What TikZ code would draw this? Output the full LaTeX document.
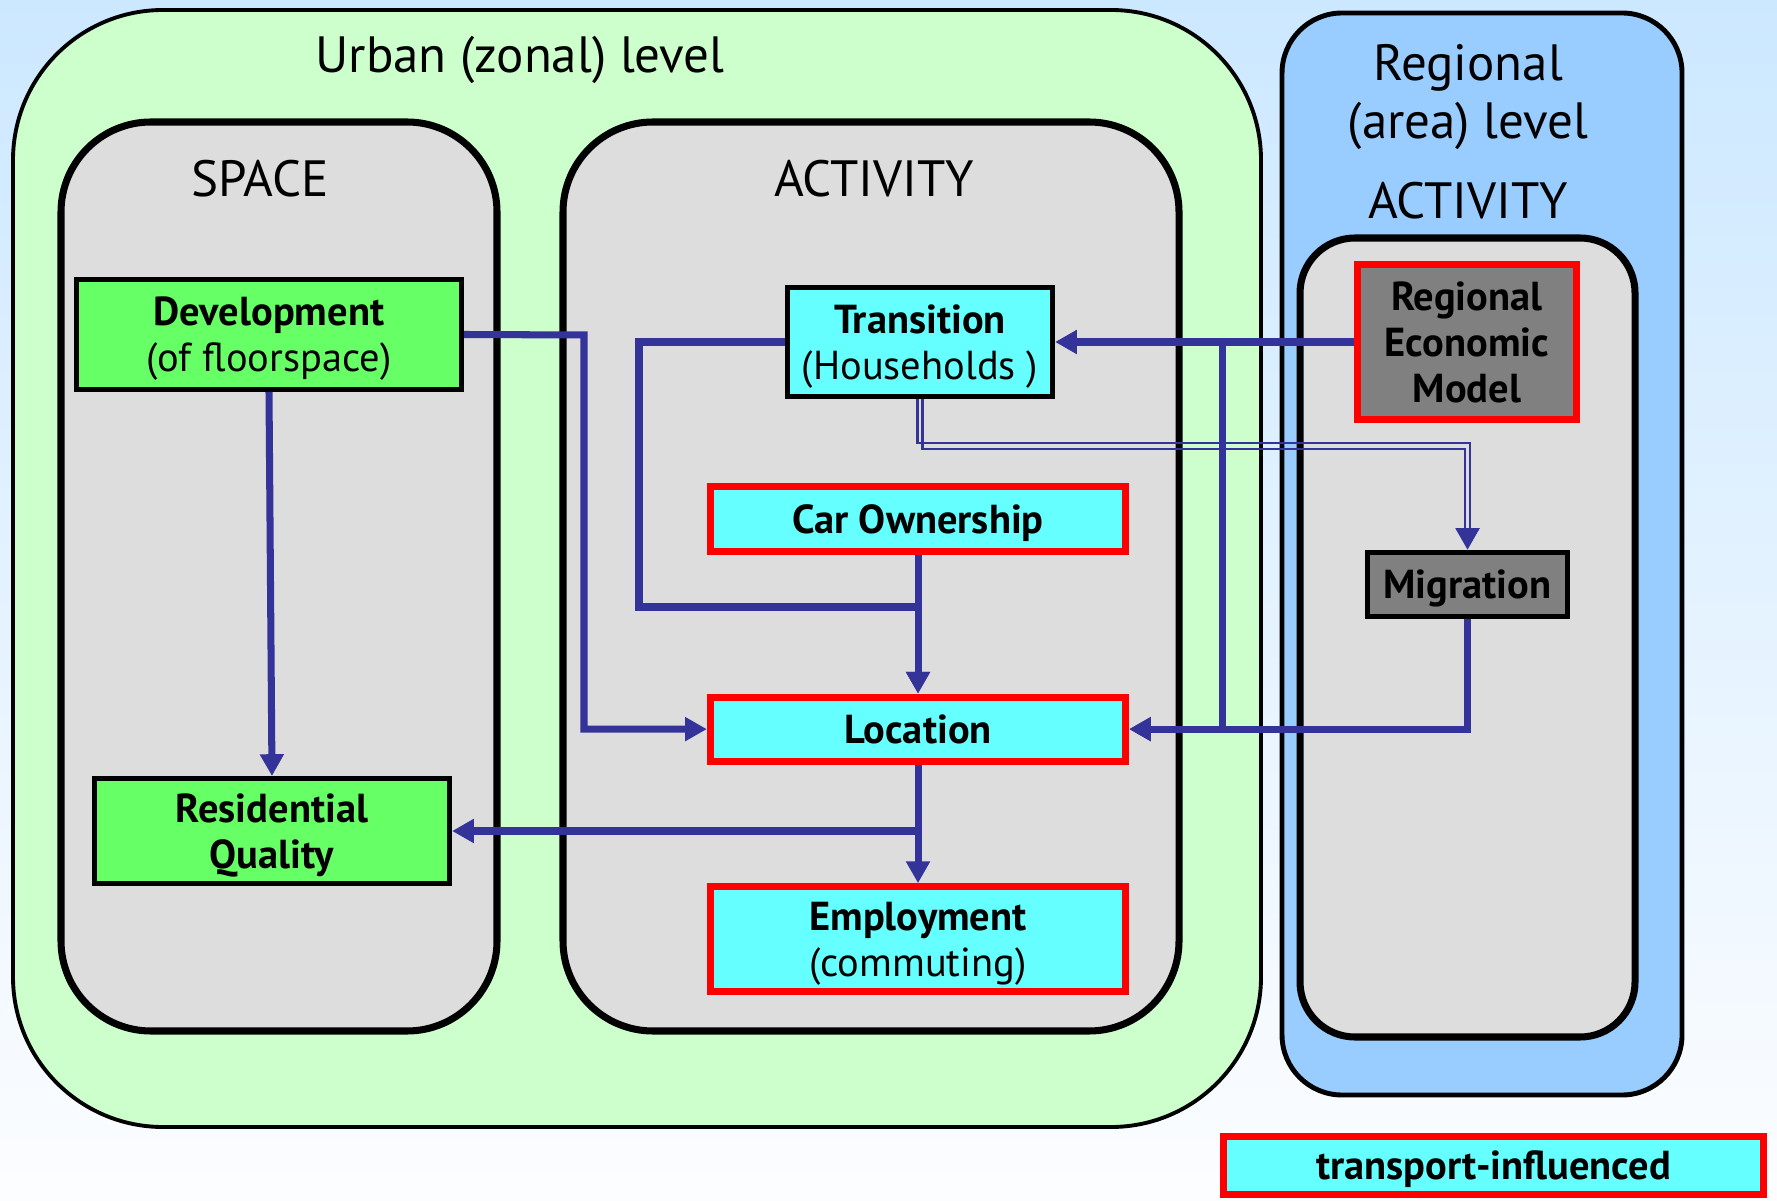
\documentclass[tikz,border=0pt]{standalone}
\usepackage{fontspec}
\setmainfont{PT Sans}
\usepackage{tikz}
\usetikzlibrary{arrows.meta,calc,positioning}
\usepackage{xcolor}
\definecolor{bgtop}{RGB}{204,232,255}
\definecolor{bgbottom}{RGB}{252,253,255}
\definecolor{urbangreen}{RGB}{204,255,204}
\definecolor{panelgrey}{RGB}{221,221,221}
\definecolor{regionblue}{RGB}{153,204,255}
\definecolor{spacegreen}{RGB}{102,255,102}
\definecolor{activitycyan}{RGB}{102,255,255}
\definecolor{regiongrey}{RGB}{128,128,128}
\definecolor{linkblue}{RGB}{51,51,153}
\tikzstyle{panel} = [draw=black, line width=2pt, fill=panelgrey]
\tikzstyle{spacebox} = [rectangle, draw=black, line width=1.4pt, fill=spacegreen, align=center, text depth=0pt]
\tikzstyle{activitybox} = [rectangle, draw=black, line width=1.4pt, fill=activitycyan, align=center, text depth=0pt]
\tikzstyle{transportbox} = [rectangle, draw=red, line width=2pt, fill=activitycyan, align=center, text depth=0pt]
\tikzstyle{link} = [line width=2pt, draw=linkblue, -{Triangle[width=6.5pt,length=6.2pt]}]
\tikzstyle{thinlink} = [line width=0.6pt, draw=linkblue]

\begin{document}
\begin{tikzpicture}[
            x=0.01cm, y=-0.01cm,
            node distance=2.1cm,
            every node/.style={text centered, font=\fontsize{11.5}{13}\selectfont},
            title/.style={font=\fontsize{14.5}{16.5}\selectfont, align=center}
        ]
            % Background
            \shade[top color=bgtop, bottom color=bgbottom] (0,0) rectangle (1777,1201);
            \useasboundingbox (0,0) rectangle (1777,1201);

            % Panels
            \draw[draw=black, line width=1.1pt, fill=urbangreen, rounded corners=1.5cm] (13,10) rectangle (1261,1127);
            \draw[panel, rounded corners=0.9cm] (61,122) rectangle (497,1031);
            \draw[panel, rounded corners=0.9cm] (563,122) rectangle (1179,1031);
            \draw[draw=black, line width=1.4pt, fill=regionblue, rounded corners=0.6cm] (1282,13) rectangle (1682,1095);
            \draw[panel, rounded corners=0.55cm] (1300,238) rectangle (1635,1037);

            % Titles
            \node[title] (urbantitle) at (520,60) {Urban (zonal) level};
            \node[title] (spacetitle) at (260,179) {SPACE};
            \node[title] (acttitle) at (874,179) {ACTIVITY};
            \node[title] (regtitle) at (1468,97) {Regional\\(area) level};
            \node[title] (regacttitle) at (1468,201) {ACTIVITY};

            % Nodes
            \node (dev) [spacebox, minimum width=3.85cm, minimum height=1.1cm] at (269,334.5) {\textbf{Development}\\(of floorspace)};
            \node (res) [spacebox, minimum width=3.55cm, minimum height=1.05cm] at (272,831) {\textbf{Residential}\\\textbf{Quality}};
            \node (trans) [activitybox, minimum width=2.65cm, minimum height=1.09cm] at (920,342) {\textbf{Transition}\\(Households )};
            \node (car) [transportbox, minimum width=4.15cm, minimum height=0.65cm] at (918,519) {\textbf{Car Ownership}};
            \node (loc) [transportbox, minimum width=4.15cm, minimum height=0.64cm, below of=car] {\textbf{Location}};
            \node (emp) [transportbox, minimum width=4.15cm, minimum height=1.05cm, below of=loc] {\textbf{Employment}\\(commuting)};
            \node (rem) [transportbox, fill=regiongrey, minimum width=2.19cm, minimum height=1.55cm] at (1467,342) {\textbf{Regional}\\\textbf{Economic}\\\textbf{Model}};
            \node (mig) [activitybox, fill=regiongrey, minimum width=2cm, minimum height=0.64cm] at (1467.5,584.5) {\textbf{Migration}};
            \node (legend) [transportbox, minimum width=5.4cm, minimum height=0.58cm] at (1493.5,1165.5) {\textbf{transport-influenced}};

            \coordinate (devbend) at (584,335);
            \coordinate (transbend) at (639,607);
            \coordinate (remdrop) at (1222,342);

            % Arrows
            \draw [link] (dev.south) -- (res.north);
            \draw [link] (dev.east) -- (devbend) |- (loc.west);
            \draw [link] (trans.west) -| (transbend) -| (loc.north);
            \draw [link] (car.south) -- (loc.north);
            \draw [link] (loc.south) |- (res.east);
            \draw [link] (loc.south) -- (emp.north);
            \draw [link] (rem.west) -- (trans.east);
            \draw [link] (rem.west) -- (remdrop) |- (loc.east);
            \draw [link] (mig.south) |- (loc.east);
            % double line Transition -> Migration
            \draw [thinlink] ($(trans.south)+(-2.5,0)$) |- ($(mig.north)+(2.5,-107)$) -- ($(mig.north)+(2.5,-20)$);
            \draw [thinlink] ($(trans.south)+(2.5,0)$) |- ($(mig.north)+(-2.5,-101)$) -- ($(mig.north)+(-2.5,-20)$);
            \draw [link] ($(mig.north)+(0,-22)$) -- (mig.north);
        \end{tikzpicture}
\end{document}
